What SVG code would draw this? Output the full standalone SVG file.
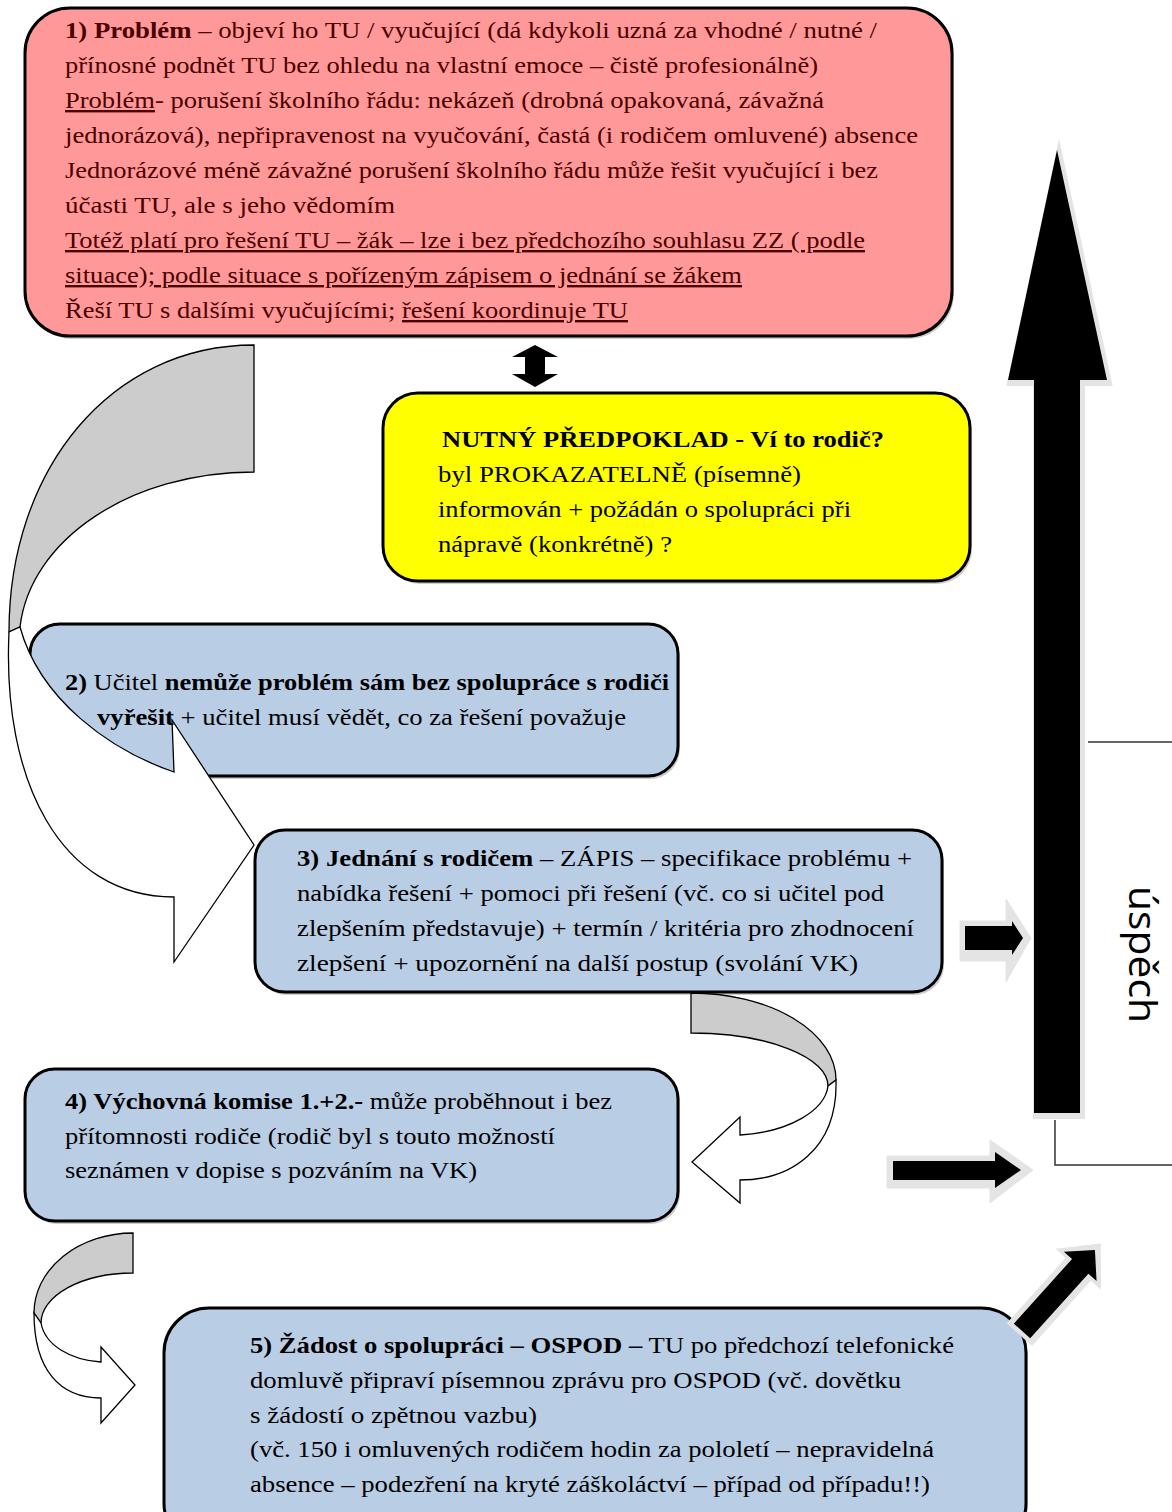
<svg xmlns="http://www.w3.org/2000/svg" width="1172" height="1512" viewBox="0 0 1172 1512">
<style>
.t{font-family:"Liberation Serif","Times New Roman",serif;font-size:24px;fill:#000}
.r{fill:#4a0000}
.b{font-weight:bold}
.u{text-decoration:underline}
.box{stroke:#000;stroke-width:3}
.sh{fill:#808080;opacity:.4}
.pink{fill:#FF9999}
.yel{fill:#FFFF00}
.blue{fill:#B9CDE5}
.curve{stroke:#000;stroke-width:1.3;stroke-linejoin:miter}
.gr{fill:#CCCCCC}
.wh{fill:#FFFFFF}
.glow{fill:#E4E4E4;stroke:#E4E4E4;stroke-width:6;stroke-linejoin:miter;stroke-miterlimit:10}
.blk{fill:#000}
.ln{fill:none;stroke:#333;stroke-width:1.5}
.lab{font-family:"Open Sans","Liberation Sans",sans-serif;font-size:38px;fill:#000}
</style>
<rect width="1172" height="1512" fill="#fff"/>

<g id="node-1">
<rect class="sh" x="27" y="11" width="927" height="328" rx="45"/>
<rect class="box pink" x="25" y="8" width="927" height="328" rx="45"/>
<text class="t r" x="65" y="38" textLength="812" lengthAdjust="spacingAndGlyphs"><tspan class="b">1) Problém</tspan> – objeví ho TU / vyučující (dá kdykoli uzná za vhodné / nutné /</text>
<text class="t r" x="65" y="73" textLength="753" lengthAdjust="spacingAndGlyphs">přínosné podnět TU bez ohledu na vlastní emoce – čistě profesionálně)</text>
<text class="t r" x="65" y="108" textLength="759" lengthAdjust="spacingAndGlyphs"><tspan class="u">Problém</tspan>- porušení školního řádu: nekázeň (drobná opakovaná, závažná</text>
<text class="t r" x="65" y="143" textLength="853" lengthAdjust="spacingAndGlyphs">jednorázová), nepřipravenost na vyučování, častá (i rodičem omluvené) absence</text>
<text class="t r" x="65" y="178" textLength="813" lengthAdjust="spacingAndGlyphs">Jednorázové méně závažné porušení školního řádu může řešit vyučující i bez</text>
<text class="t r" x="65" y="213" textLength="330" lengthAdjust="spacingAndGlyphs">účasti TU, ale s jeho vědomím</text>
<text class="t r u" x="65" y="248" textLength="800" lengthAdjust="spacingAndGlyphs">Totéž platí pro řešení TU – žák – lze i bez předchozího souhlasu ZZ ( podle</text>
<text class="t r u" x="65" y="283" textLength="677" lengthAdjust="spacingAndGlyphs">situace); podle situace s pořízeným zápisem o jednání se žákem</text>
<text class="t r" x="65" y="318" textLength="563" lengthAdjust="spacingAndGlyphs">Řeší TU s  dalšími vyučujícími; <tspan class="u">řešení koordinuje TU</tspan></text>
</g>

<g id="node-predpoklad">
<rect class="sh" x="385" y="396" width="587" height="188" rx="35"/>
<rect class="box yel" x="383" y="393" width="587" height="188" rx="35"/>
<text class="t b" x="442" y="447" textLength="442" lengthAdjust="spacingAndGlyphs">NUTNÝ PŘEDPOKLAD - Ví to rodič?</text>
<text class="t" x="438" y="482" textLength="363" lengthAdjust="spacingAndGlyphs">byl PROKAZATELNĚ (písemně)</text>
<text class="t" x="438" y="517" textLength="413" lengthAdjust="spacingAndGlyphs">informován + požádán o spolupráci při</text>
<text class="t" x="438" y="552" textLength="234" lengthAdjust="spacingAndGlyphs">nápravě (konkrétně) ?</text>
</g>

<g id="node-2">
<rect class="sh" x="32" y="627" width="648" height="152" rx="30"/>
<rect class="box blue" x="30" y="624" width="648" height="152" rx="30"/>
</g>

<g id="node-3">
<rect class="sh" x="257" y="833" width="687" height="162" rx="30"/>
<rect class="box blue" x="255" y="830" width="687" height="162" rx="30"/>
<text class="t" x="297" y="866" textLength="615" lengthAdjust="spacingAndGlyphs"><tspan class="b">3) Jednání s rodičem</tspan> – ZÁPIS – specifikace problému +</text>
<text class="t" x="297" y="901" textLength="587" lengthAdjust="spacingAndGlyphs">nabídka řešení + pomoci při řešení (vč. co si učitel pod</text>
<text class="t" x="297" y="936" textLength="617" lengthAdjust="spacingAndGlyphs">zlepšením představuje) + termín / kritéria pro zhodnocení</text>
<text class="t" x="297" y="971" textLength="561" lengthAdjust="spacingAndGlyphs">zlepšení  + upozornění na další postup (svolání VK)</text>
</g>

<g id="node-4">
<rect class="sh" x="27" y="1072" width="653" height="152" rx="30"/>
<rect class="box blue" x="25" y="1069" width="653" height="152" rx="30"/>
<text class="t" x="65" y="1109" textLength="547" lengthAdjust="spacingAndGlyphs"><tspan class="b">4) Výchovná komise 1.+2.-</tspan> může proběhnout i bez</text>
<text class="t" x="65" y="1144" textLength="490" lengthAdjust="spacingAndGlyphs">přítomnosti rodiče (rodič byl s touto možností</text>
<text class="t" x="65" y="1178" textLength="412" lengthAdjust="spacingAndGlyphs">seznámen v dopise s pozváním na VK)</text>
</g>

<g id="node-5">
<rect class="sh" x="166" y="1311" width="862" height="240" rx="45"/>
<rect class="box blue" x="164" y="1308" width="862" height="240" rx="45"/>
<text class="t" x="250" y="1353" textLength="704" lengthAdjust="spacingAndGlyphs"><tspan class="b">5) Žádost o spolupráci – OSPOD –</tspan> TU po předchozí telefonické</text>
<text class="t" x="250" y="1388" textLength="651" lengthAdjust="spacingAndGlyphs">domluvě připraví písemnou zprávu pro OSPOD (vč. dovětku</text>
<text class="t" x="250" y="1423" textLength="287" lengthAdjust="spacingAndGlyphs">s žádostí o zpětnou vazbu)</text>
<text class="t" x="250" y="1457" textLength="684" lengthAdjust="spacingAndGlyphs">(vč. 150 i omluvených rodičem hodin za pololetí – nepravidelná</text>
<text class="t" x="250" y="1492" textLength="680" lengthAdjust="spacingAndGlyphs">absence – podezření na kryté záškoláctví – případ od případu!!)</text>
</g>

<g id="connectors">
<path class="curve gr" d="M254,345 C110,345 9,470 9,632 L20,627 C30,540 130,472 254,472 Z"/>
<path class="curve wh" d="M9,632 C2,780 60,897 174,897 L174,962 L254,845 L172,720 L174,772 C110,750 40,700 20,627 Z"/>
<path class="blk" d="M535,345 L558,357 L545,357 L545,374 L558,374 L535,387 L512,374 L525,374 L525,357 L512,357 Z"/>
<path class="curve gr" d="M691,993 A145,87 0 0 1 836,1080 L828,1086 A137,53 0 0 0 691,1033 Z"/>
<path class="curve wh" d="M836,1080 C838,1150 790,1180 740,1180 L740,1203 L692,1162 L740,1117 L740,1135 C790,1132 825,1110 828,1086 Z"/>
<path class="curve gr" d="M133,1233 A99,80 0 0 0 34,1313 L41,1323 A92,50 0 0 1 133,1273 Z"/>
<path class="curve wh" d="M34,1313 C34,1370 60,1398 101,1398 L101,1423 L135,1385 L101,1347 L101,1362 C70,1360 45,1345 41,1323 Z"/>
<path class="glow" transform="translate(2,3)" d="M1057,150 L1107,380 L1080,380 L1080,1113 L1034,1113 L1034,380 L1008,380 Z"/>
<path class="blk" d="M1057,150 L1107,380 L1080,380 L1080,1113 L1034,1113 L1034,380 L1008,380 Z"/>
<path class="glow" style="stroke-width:1" d="M960,921 L1006,921 L1006,899 L1031,938 L1006,982 L1006,961 L960,961 Z"/>
<path class="blk" d="M965,926 L1012,926 L1012,921 L1023,938 L1012,955 L1012,950 L965,950 Z"/>
<path class="glow" style="stroke-width:1" d="M887,1156 L990,1156 L990,1140 L1033,1170 L990,1203 L990,1188 L887,1188 Z"/>
<path class="blk" d="M893,1161 L995,1161 L995,1152 L1021,1170 L995,1188 L995,1180 L893,1180 Z"/>
<g transform="translate(1022,1331) rotate(-48)">
<path class="glow" style="stroke-width:1" d="M-4,-16 L84,-16 L84,-29 L117,0 L84,30 L84,17 L-4,17 Z"/>
<path class="blk" d="M0,-11 L87,-11 L87,-22 L109,0 L87,22 L87,11 L0,11 Z"/>
</g>
<path class="ln" d="M1088,742 H1172"/>
<path class="ln" d="M1055,1120 V1165 H1172"/>
</g>

<g id="node-2-label">
<text class="t" x="65" y="690" textLength="604" lengthAdjust="spacingAndGlyphs"><tspan class="b">2)</tspan> Učitel <tspan class="b">nemůže problém sám bez spolupráce s rodiči</tspan></text>
<text class="t" x="97" y="725" textLength="529" lengthAdjust="spacingAndGlyphs"><tspan class="b">vyřešit</tspan> + učitel musí vědět, co za řešení považuje</text>
</g>

<g id="label-uspech">
<text class="lab" transform="translate(1129,886) rotate(90)" x="0" y="0" textLength="137" lengthAdjust="spacingAndGlyphs">úspěch</text>
</g>
</svg>
